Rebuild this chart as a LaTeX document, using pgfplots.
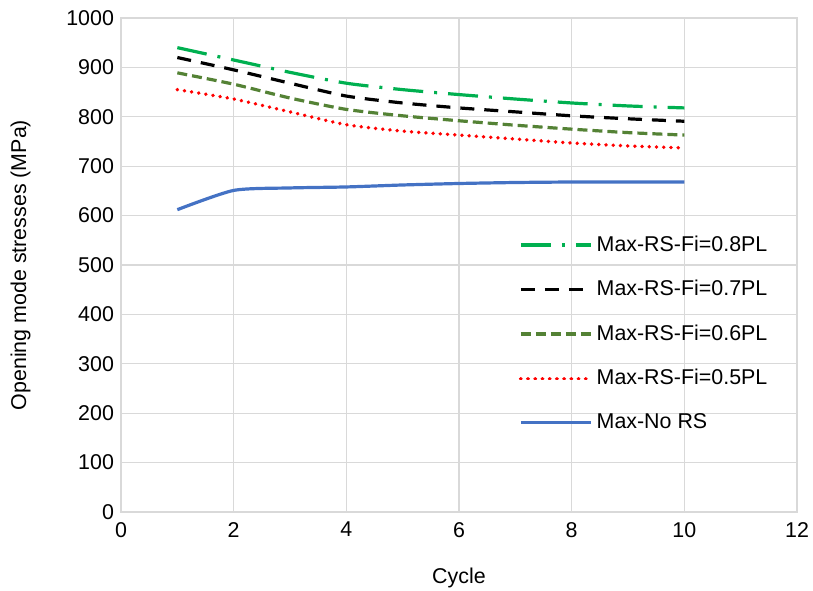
\documentclass[border=0pt]{standalone}
\usepackage{pgfplots}
\pgfplotsset{compat=1.18}
\usepackage{fontspec}
\setmainfont{Liberation Sans}
\definecolor{cgreen}{HTML}{00B050}
\definecolor{colive}{HTML}{548235}
\definecolor{cred}{HTML}{FF0000}
\definecolor{cblue}{HTML}{4472C4}
\definecolor{cgrid}{HTML}{D9D9D9}
\begin{document}
\begin{tikzpicture}
\begin{axis}[
  scale only axis,
  width=338pt, height=247pt,
  xmin=0, xmax=12, ymin=0, ymax=1000,
  xtick={0,2,...,12}, ytick={0,100,...,1000},
  grid=major,
  major grid style={cgrid, line width=0.6pt},
  axis line style={cgrid, line width=0.6pt},
  tick style={draw=none},
  font=\fontsize{10.7}{12.8}\selectfont,
  tick label style={font=\fontsize{10.7}{12.8}\selectfont},
  xticklabel style={yshift=-1.5pt},
  /pgf/number format/assume math mode=true,
  /pgf/number format/1000 sep={},
  xlabel={Cycle}, ylabel={Opening mode stresses (MPa)},
  xlabel style={yshift=-8.5pt},
  ylabel style={yshift=11pt},
  legend cell align=left,
  legend style={draw=none, fill=none, at={(0.588,0.568)}, anchor=north west,
    inner sep=0pt, row sep=9pt, font=\fontsize{10.7}{12.8}\selectfont},
  legend image code/.code={\draw[#1] (0pt,0pt) -- (35pt,0pt);},
  every axis plot/.append style={line width=1.6pt, smooth, tension=0.4},
]
\addplot[cgreen, dash pattern=on 15pt off 5.5pt on 1.5pt off 5.5pt] coordinates {
(1,940) (2,915) (3,890) (4,868) (5,855) (6,845) (7,836) (8,828) (9,822) (10,818)};
\addlegendentry{Max-RS-Fi=0.8PL}
\addplot[black, dash pattern=on 7pt off 5pt] coordinates {
(1,920) (2,895) (3,868) (4,842) (5,828) (6,818) (7,810) (8,802) (9,796) (10,791)};
\addlegendentry{Max-RS-Fi=0.7PL}
\addplot[colive, dash pattern=on 5pt off 2.5pt] coordinates {
(1,889) (2,866) (3,838) (4,815) (5,802) (6,792) (7,783) (8,775) (9,768) (10,763)};
\addlegendentry{Max-RS-Fi=0.6PL}
\addplot[cred, line cap=round, line width=1.9pt, dash pattern=on 0.01pt off 3.6pt] coordinates {
(1,855) (2,836) (3,810) (4,784) (5,771) (6,763) (7,755) (8,747) (9,741) (10,737)};
\addlegendentry{Max-RS-Fi=0.5PL}
\addplot[cblue] coordinates {
(1,612) (2,651) (3,656) (4,658) (5,662) (6,665) (7,667) (8,668) (9,668) (10,668)};
\addlegendentry{Max-No RS}
\end{axis}
\pgfresetboundingbox
\useasboundingbox ([xshift=-60.5pt,yshift=-39pt]current axis.south west) rectangle ([xshift=8pt,yshift=9pt]current axis.north east);
\end{tikzpicture}
\end{document}
